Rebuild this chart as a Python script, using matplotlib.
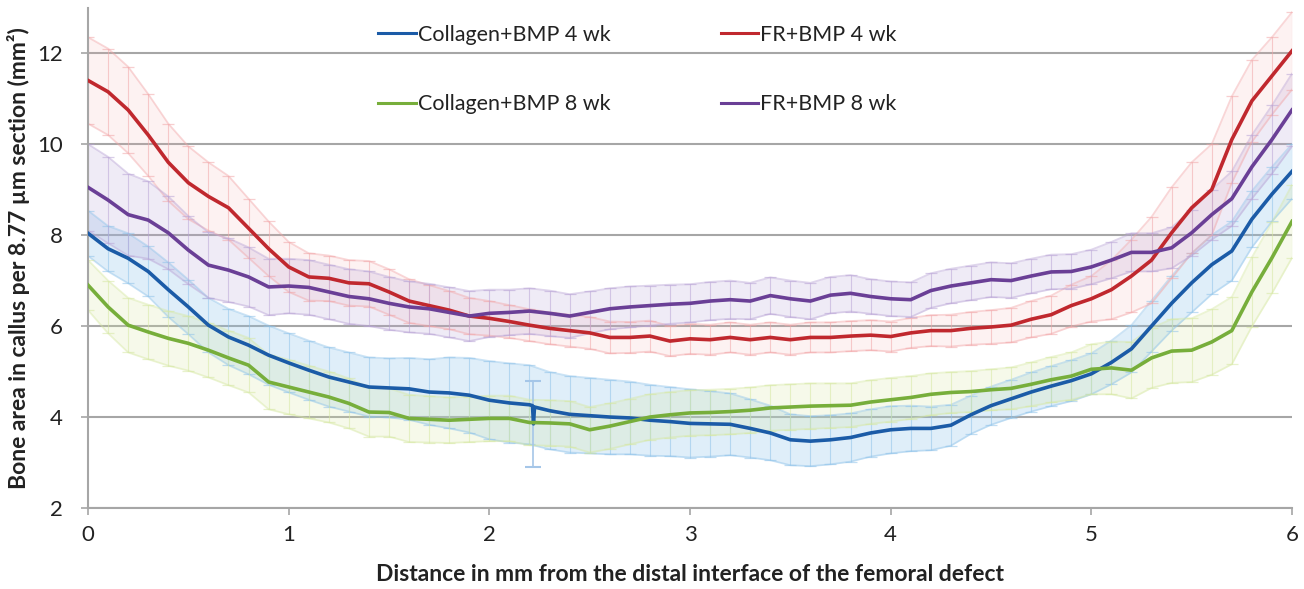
import numpy as np
import matplotlib
matplotlib.use("Agg")
import matplotlib.pyplot as plt

plt.rcParams['font.family'] = ['Liberation Sans Narrow', 'Lato', 'DejaVu Sans']

# distance from distal interface (mm), one reading every 0.1 mm
dist = np.round(np.arange(61) * 0.1, 1)

collagen_4wk = [8.04, 7.7, 7.49, 7.2, 6.8, 6.42, 6.02, 5.76, 5.58, 5.36,
                5.19, 5.03, 4.88, 4.77, 4.66, 4.64, 4.62, 4.55, 4.53, 4.48,
                4.37, 4.31, 4.27, 4.14, 4.06, 4.03, 4.0, 3.98, 3.93, 3.9,
                3.86, 3.85, 3.84, 3.75, 3.65, 3.5, 3.47, 3.5, 3.55, 3.65,
                3.72, 3.75, 3.75, 3.82, 4.05, 4.25, 4.4, 4.55, 4.68, 4.8,
                4.95, 5.2, 5.5, 6.0, 6.5, 6.95, 7.35, 7.65, 8.35, 8.9, 9.4]
collagen_4wk_err = [0.5, 0.5, 0.55, 0.55, 0.6, 0.6, 0.6, 0.62, 0.64, 0.65,
                    0.65, 0.65, 0.65, 0.65, 0.65, 0.65, 0.68, 0.72, 0.78, 0.82,
                    0.86, 0.87, 0.87, 0.85, 0.84, 0.83, 0.82, 0.8, 0.78, 0.76,
                    0.75, 0.72, 0.68, 0.64, 0.6, 0.56, 0.55, 0.54, 0.53, 0.52,
                    0.52, 0.5, 0.48, 0.45, 0.42, 0.42, 0.42, 0.43, 0.44, 0.45,
                    0.45, 0.48, 0.52, 0.56, 0.6, 0.65, 0.65, 0.65, 0.62, 0.6, 0.6]
# single odd section near 2.2 mm in the 4 wk collagen group
notch_x = [2.215, 2.22, 2.225]
notch_y = [4.25, 3.85, 4.22]
notch_err = 0.95

collagen_8wk = [6.9, 6.42, 6.02, 5.87, 5.73, 5.62, 5.47, 5.3, 5.14, 4.77,
                4.66, 4.55, 4.44, 4.3, 4.11, 4.1, 3.97, 3.95, 3.93, 3.95,
                3.97, 3.97, 3.88, 3.87, 3.85, 3.72, 3.8, 3.9, 4.0, 4.05,
                4.09, 4.1, 4.12, 4.15, 4.2, 4.22, 4.24, 4.25, 4.26, 4.33,
                4.38, 4.43, 4.5, 4.54, 4.56, 4.6, 4.63, 4.72, 4.82, 4.9,
                5.05, 5.08, 5.03, 5.3, 5.45, 5.47, 5.65, 5.9, 6.75, 7.5, 8.3]
collagen_8wk_err = [0.55, 0.58, 0.6, 0.6, 0.6, 0.6, 0.6, 0.6, 0.6, 0.6,
                    0.6, 0.58, 0.56, 0.55, 0.54, 0.53, 0.52, 0.51, 0.5, 0.5,
                    0.5, 0.5, 0.5, 0.5, 0.5, 0.5, 0.5, 0.5, 0.5, 0.5,
                    0.5, 0.5, 0.5, 0.5, 0.5, 0.5, 0.5, 0.49, 0.48, 0.48,
                    0.48, 0.47, 0.46, 0.45, 0.45, 0.45, 0.46, 0.48, 0.5, 0.52,
                    0.55, 0.58, 0.62, 0.66, 0.7, 0.7, 0.72, 0.74, 0.76, 0.78, 0.8]

fr_4wk = [11.4, 11.15, 10.75, 10.2, 9.6, 9.15, 8.85, 8.6, 8.15, 7.7,
          7.3, 7.08, 7.05, 6.95, 6.93, 6.75, 6.55, 6.45, 6.35, 6.22,
          6.17, 6.1, 6.02, 5.95, 5.9, 5.85, 5.75, 5.75, 5.78, 5.67,
          5.72, 5.7, 5.75, 5.7, 5.75, 5.7, 5.75, 5.75, 5.78, 5.8,
          5.77, 5.85, 5.9, 5.9, 5.95, 5.98, 6.02, 6.15, 6.25, 6.45,
          6.6, 6.8, 7.1, 7.45, 8.05, 8.6, 9.0, 10.1, 10.95, 11.5, 12.05]
fr_4wk_err = [0.95, 0.95, 0.95, 0.9, 0.85, 0.8, 0.75, 0.7, 0.65, 0.6,
              0.55, 0.52, 0.5, 0.5, 0.5, 0.5, 0.48, 0.45, 0.42, 0.4,
              0.38, 0.36, 0.35, 0.35, 0.35, 0.35, 0.35, 0.34, 0.34, 0.33,
              0.33, 0.33, 0.33, 0.33, 0.33, 0.33, 0.33, 0.33, 0.33, 0.33,
              0.33, 0.33, 0.34, 0.35, 0.36, 0.37, 0.38, 0.4, 0.42, 0.46,
              0.5, 0.65, 0.8, 0.95, 1.0, 1.0, 1.0, 0.95, 0.9, 0.85, 0.85]

fr_8wk = [9.05, 8.77, 8.45, 8.33, 8.05, 7.67, 7.34, 7.23, 7.08, 6.86,
          6.88, 6.85, 6.75, 6.65, 6.6, 6.5, 6.42, 6.38, 6.3, 6.22,
          6.28, 6.3, 6.33, 6.28, 6.22, 6.3, 6.38, 6.42, 6.45, 6.48,
          6.5, 6.55, 6.58, 6.55, 6.67, 6.6, 6.55, 6.68, 6.72, 6.65,
          6.6, 6.58, 6.78, 6.88, 6.95, 7.02, 7.0, 7.1, 7.19, 7.2,
          7.3, 7.45, 7.62, 7.62, 7.72, 8.05, 8.45, 8.8, 9.5, 10.1, 10.75]
fr_8wk_err = [0.95, 0.95, 0.9, 0.85, 0.8, 0.75, 0.72, 0.7, 0.65, 0.62,
              0.6, 0.6, 0.6, 0.6, 0.6, 0.58, 0.56, 0.55, 0.55, 0.55,
              0.52, 0.5, 0.5, 0.5, 0.48, 0.46, 0.45, 0.45, 0.44, 0.43,
              0.42, 0.42, 0.42, 0.4, 0.4, 0.4, 0.4, 0.4, 0.4, 0.38,
              0.38, 0.38, 0.38, 0.38, 0.38, 0.38, 0.38, 0.38, 0.38, 0.38,
              0.38, 0.4, 0.42, 0.42, 0.45, 0.5, 0.55, 0.6, 0.7, 0.75, 0.8]

labels = ['Collagen+BMP 4 wk', 'Collagen+BMP 8 wk', 'FR+BMP 4 wk', 'FR+BMP 8 wk']
means = [collagen_4wk, collagen_8wk, fr_4wk, fr_8wk]
errs = [collagen_4wk_err, collagen_8wk_err, fr_4wk_err, fr_8wk_err]
line_colors = ['#1b5ba7', '#77ae3b', '#c0282e', '#6a3f96']
band_colors = ['#8fc3ea', '#d6e8a2', '#f2a6a8', '#b9a4d6']
band_alpha = [0.28, 0.22, 0.14, 0.22]

fig = plt.figure(figsize=(13.04, 5.89), dpi=100)
ax = fig.add_axes([0.0675, 0.1375, 0.9233, 0.8495])

# error bars / bands first
for m, e, bc, a in zip(means, errs, band_colors, band_alpha):
    m = np.array(m)
    e = np.array(e)
    ax.fill_between(dist, m - e, m + e, color=bc, alpha=a, lw=0, zorder=1)
    ax.errorbar(dist, m, yerr=e, fmt='none', ecolor=bc, elinewidth=0.8,
                capsize=4, capthick=0.9, alpha=0.55, zorder=2)
    ax.plot(dist, m + e, color=bc, lw=1.3, alpha=0.45, zorder=2)
    ax.plot(dist, m - e, color=bc, lw=1.3, alpha=0.45, zorder=2)

# the notch point gets its own bar
ax.errorbar([notch_x[1]], [notch_y[1]], yerr=notch_err, fmt='none',
            ecolor='#a5c6e8', elinewidth=1.2, capsize=6, capthick=1.5, zorder=3)

# mean lines
handles = []
for i, (m, lc, lab) in enumerate(zip(means, line_colors, labels)):
    x = list(dist)
    y = list(m)
    if i == 0:
        for nx, ny in zip(notch_x, notch_y):
            k = np.searchsorted(x, nx)
            x.insert(k, nx)
            y.insert(k, ny)
    h, = ax.plot(x, y, color=lc, lw=2.6, zorder=5, label=lab,
                 solid_joinstyle='round')
    handles.append(h)

ax.set_xlim(0, 6)
ax.set_ylim(2, 13)
ax.set_xticks(range(0, 7))
ax.set_yticks(range(2, 13, 2))
ax.yaxis.grid(True, color='#a6a6a6', lw=1.5)
ax.set_axisbelow(True)
for s in ['top', 'right']:
    ax.spines[s].set_visible(False)
for s in ['left', 'bottom']:
    ax.spines[s].set_color('#a6a6a6')
    ax.spines[s].set_linewidth(1.5)
ax.tick_params(axis='both', colors='#a6a6a6', length=5, width=1.2,
               labelsize=16, labelcolor='#222222')
ax.tick_params(axis='y', pad=13)
ax.tick_params(axis='x', pad=7)

ax.set_xlabel('Distance in mm from the distal interface of the femoral defect',
              fontsize=16.5, fontweight='bold', color='#222222', labelpad=14)
ax.set_ylabel('Bone area in callus per 8.77 \u00b5m section (mm\u00b2)',
              fontsize=16.5, fontweight='bold', color='#222222', labelpad=5)

leg = ax.legend(handles=handles, ncol=2, loc='upper left',
                bbox_to_anchor=(0.241, 0.966), frameon=False, fontsize=15.5,
                handlelength=1.75, handletextpad=0.1, columnspacing=5.1,
                labelspacing=2.3, borderaxespad=0, borderpad=0)
for t in leg.get_texts():
    t.set_color('#222222')
for lh in leg.get_lines():
    lh.set_linewidth(2.2)

fig.savefig('out.png', dpi=100)
